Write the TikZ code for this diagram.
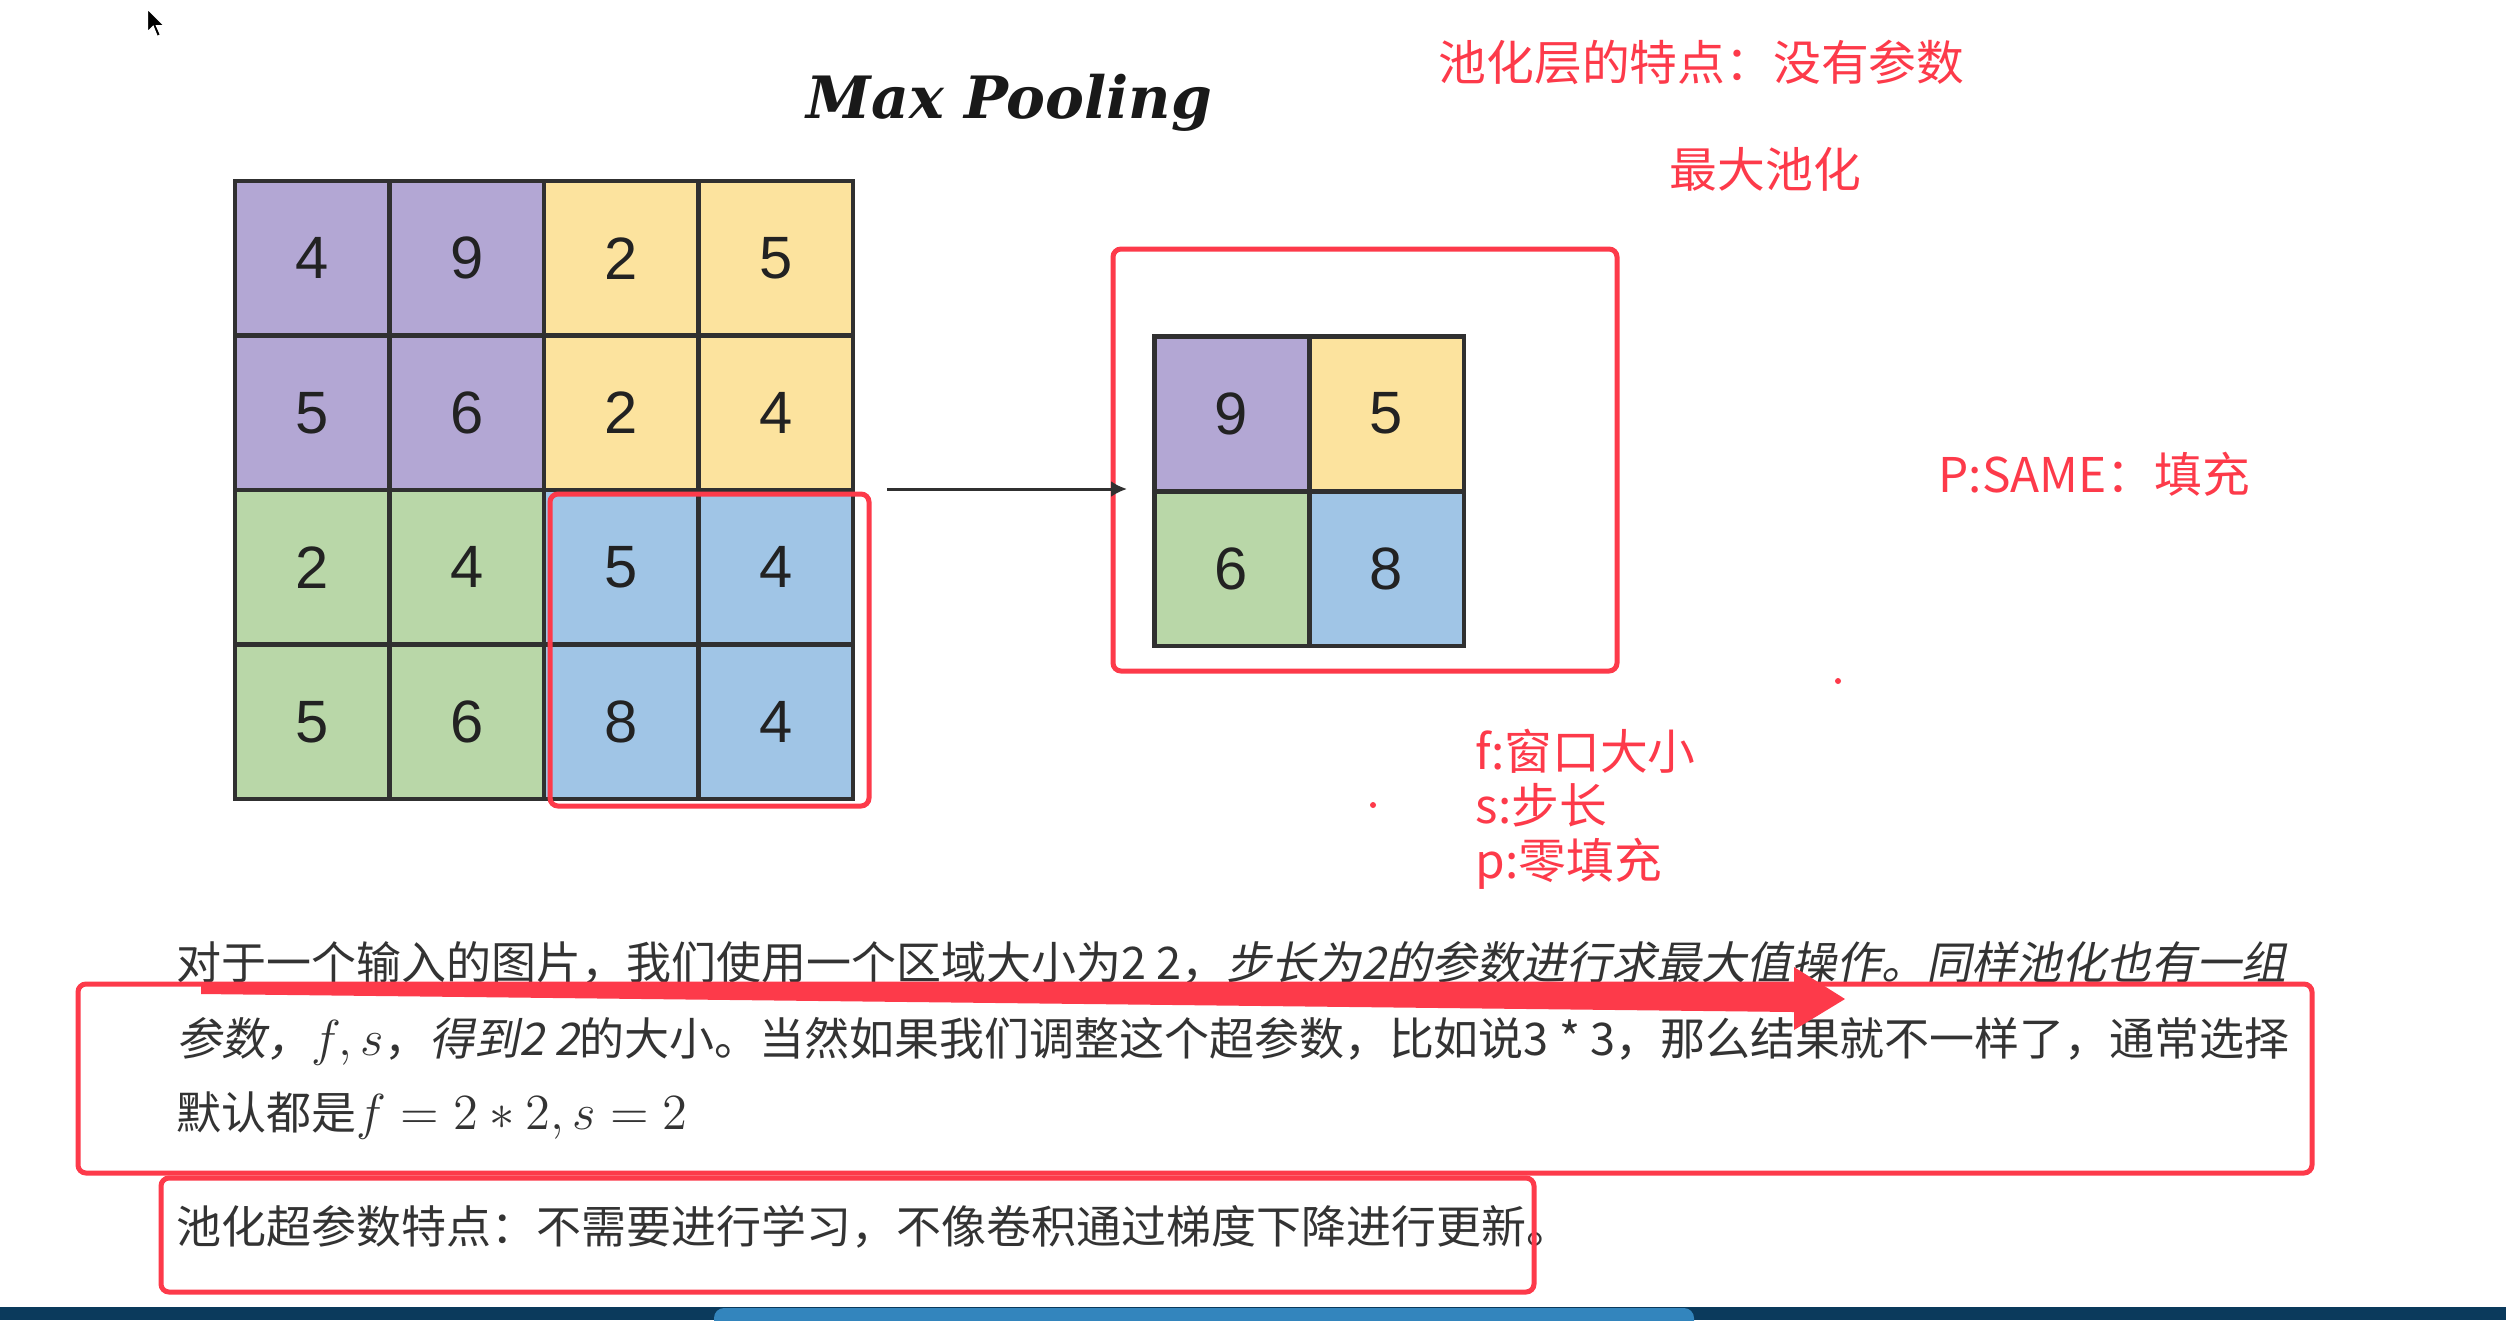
\documentclass[tikz,border=0pt]{standalone}
\usepackage{fontspec}
\usetikzlibrary{arrows.meta}
\newfontfamily\cjk{Noto Sans CJK SC}
\newfontfamily\cjkit{Noto Sans CJK SC}[FakeSlant=0.2]
\newfontfamily\numfont{Liberation Sans}
\newfontfamily\titlefont{DejaVu Serif}

\definecolor{poolpurple}{RGB}{179,167,212}
\definecolor{poolyellow}{RGB}{252,227,158}
\definecolor{poolgreen}{RGB}{185,215,168}
\definecolor{poolblue}{RGB}{160,197,230}
\definecolor{gridline}{RGB}{48,48,48}
\definecolor{numgray}{RGB}{34,34,34}
\definecolor{bodygray}{RGB}{51,51,51}
\definecolor{annred}{RGB}{253,58,74}
\definecolor{barnavy}{RGB}{11,58,92}
\definecolor{barblue}{RGB}{51,133,189}

\tikzset{
  cell/.style={draw=gridline, line width=0.45mm, minimum size=15.45mm, inner sep=0pt,
    text=numgray, font=\numfont\fontsize{17}{17}\selectfont},
  redbox/.style={draw=annred, line width=0.5mm, rounded corners=0.8mm},
  redtxt/.style={anchor=base west, inner sep=0pt, text=annred, font=\cjk\fontsize{13.6}{13.6}\selectfont},
  bodytxt/.style={anchor=base west, inner sep=0pt, text=bodygray, font=\cjk\fontsize{12.8}{12.8}\selectfont}
}

\begin{document}
\begin{tikzpicture}[x=0.1mm, y=-0.1mm, >=Stealth]
    \useasboundingbox[fill=white] (0,0) rectangle (2506,1320);

    % Cursor
    \filldraw[fill=black, draw=white, line width=0.2mm] (147,8) -- (147,33) -- (153,27) -- (157,37)
        -- (161,35) -- (157,26) -- (165,26) -- cycle;

    % Title
    \node[anchor=base west, inner sep=0pt, text=black!90, font=\titlefont\bfseries\itshape\fontsize{16.6}{16.6}\selectfont]
        (title) at (806,118) {Max Pooling};

    % Input grid
    \node[cell, fill=poolpurple] (in11) at (312.25,258.25) {4};
    \node[cell, fill=poolpurple] (in12) at (466.75,258.25) {9};
    \node[cell, fill=poolyellow] (in13) at (621.25,258.25) {2};
    \node[cell, fill=poolyellow] (in14) at (775.75,258.25) {5};
    \node[cell, fill=poolpurple] (in21) at (312.25,412.75) {5};
    \node[cell, fill=poolpurple] (in22) at (466.75,412.75) {6};
    \node[cell, fill=poolyellow] (in23) at (621.25,412.75) {2};
    \node[cell, fill=poolyellow] (in24) at (775.75,412.75) {4};
    \node[cell, fill=poolgreen] (in31) at (312.25,567.25) {2};
    \node[cell, fill=poolgreen] (in32) at (466.75,567.25) {4};
    \node[cell, fill=poolblue] (in33) at (621.25,567.25) {5};
    \node[cell, fill=poolblue] (in34) at (775.75,567.25) {4};
    \node[cell, fill=poolgreen] (in41) at (312.25,721.75) {5};
    \node[cell, fill=poolgreen] (in42) at (466.75,721.75) {6};
    \node[cell, fill=poolblue] (in43) at (621.25,721.75) {8};
    \node[cell, fill=poolblue] (in44) at (775.75,721.75) {4};
    \draw[redbox] (550,494) rectangle (869,806);

    % Output grid
    \node[cell, fill=poolpurple] (out11) at (1231.5,413.5) {9};
    \node[cell, fill=poolyellow] (out12) at (1386.5,413.5) {5};
    \node[cell, fill=poolgreen] (out21) at (1231.5,568.5) {6};
    \node[cell, fill=poolblue] (out22) at (1386.5,568.5) {8};
    \draw[redbox] (1113,249) rectangle (1617,671);

    % Pooling arrow
    \coordinate (arrS) at (887,489);
    \coordinate (arrE) at (1127,489);
    \draw[-{Latex[length=1.6mm,width=1.6mm]}, draw=gridline, line width=0.3mm] (arrS) -- (arrE);

    % Notes
    \node[redtxt] (note1) at (1438,80) {池化层的特点：没有参数};
    \node[redtxt] (note2) at (1669,187) {最大池化};
    \node[redtxt] (note3) at (1938,492) {P:SAME：填充};
    \node[redtxt] (noteF) at (1475,769) {f:窗口大小};
    \node[redtxt] (noteS) at (1475,823) {s:步长};
    \node[redtxt] (noteP) at (1475,878) {p:零填充};
    \fill[annred] (1838,681) circle (3);
    \fill[annred] (1373,805) circle (3);

    % Text
    \node[bodytxt] (line1) at (176,979) {对于一个输入的图片，我们使用一个区域大小为2 2，{\cjkit 步长为2的参数进行求最大值操作。同样池化也有一组}};
    \node[bodytxt] (line2) at (176,1055) {{\cjkit 参数，}{\fontsize{13.6}{13.6}\selectfont$f,s$}，{\cjkit 得到2 2}的大小。当然如果我们调整这个超参数，比如说3 * 3，那么结果就不一样了，通常选择};
    \node[bodytxt] (line3) at (176,1129) {默认都是{\fontsize{13.6}{13.6}\selectfont$f=2*2,s=2$}};
    \node[bodytxt] (line4) at (176,1243) {池化超参数特点：不需要进行学习，不像卷积通过梯度下降进行更新。};

    % Marks
    \draw[redbox] (78,984) rectangle (2312,1173);
    \draw[redbox] (161,1178) rectangle (1534,1292);
    \fill[annred] (201,982) -- (1794,984) -- (1794,967) -- (1845,999) -- (1794,1030)
        -- (1794,1012) -- (201,994) -- cycle;

    % Bottom bar
    \fill[barnavy] (0,1307) rectangle (2506,1320);
    \fill[barblue, rounded corners=1mm] (714,1330) -- (714,1308) -- (1694,1308) -- (1694,1330);
\end{tikzpicture}
\end{document}
